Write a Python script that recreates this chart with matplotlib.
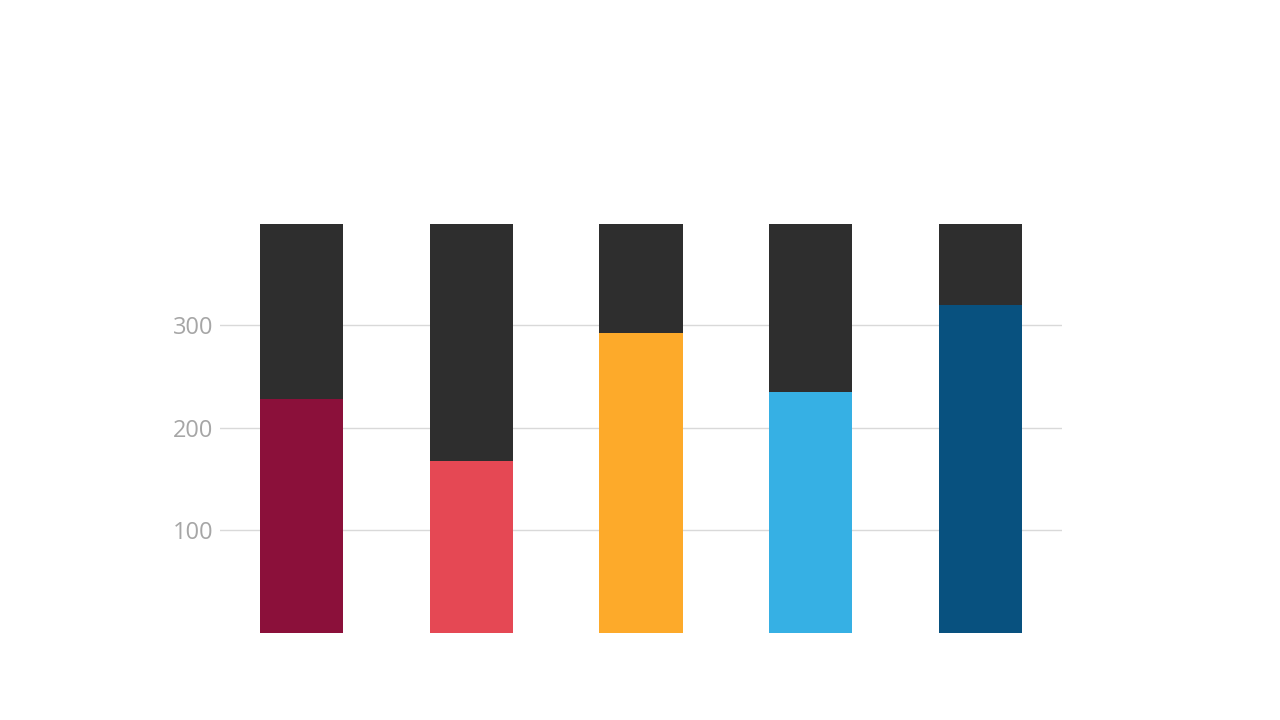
import matplotlib
matplotlib.use("Agg")
from matplotlib import pyplot as plt

# data
categories = ["A", "B", "C", "D", "E"]
values = [228, 168, 292, 235, 320]
totals = [399, 399, 399, 399, 399]
colors = ["#8b103a", "#e54854", "#fdaa2a", "#36b0e4", "#08517f"]
ticks = [100, 200, 300]

plt.rcParams['font.family'] = ['Open Sans', 'DejaVu Sans']

fig = plt.figure(figsize=(12.8, 7.2), dpi=100)
ax = fig.add_axes([220 / 1280, (720 - 632.7) / 720, 842 / 1280, 0.6])

x = list(range(len(categories)))
rest = [t - v for t, v in zip(totals, values)]
ax.bar(x, values, width=0.49, color=colors, zorder=2)
ax.bar(x, rest, bottom=values, width=0.49, color="#2e2e2e", zorder=2)

ax.set_xlim(-0.48, 4.48)
# 102.5 px per 100 units
ax.set_ylim(0, 0.6 * 720 / 1.025)
ax.set_yticks(ticks)
ax.set_yticklabels([str(t) for t in ticks], fontsize=17, color="#a6a6a6")
ax.tick_params(axis="y", length=0, pad=5)
ax.set_xticks([])
ax.grid(axis="y", color="#d9d9d9", linewidth=1, zorder=0)
for s in ax.spines.values():
	s.set_visible(False)

fig.savefig("out.png", dpi=100)
